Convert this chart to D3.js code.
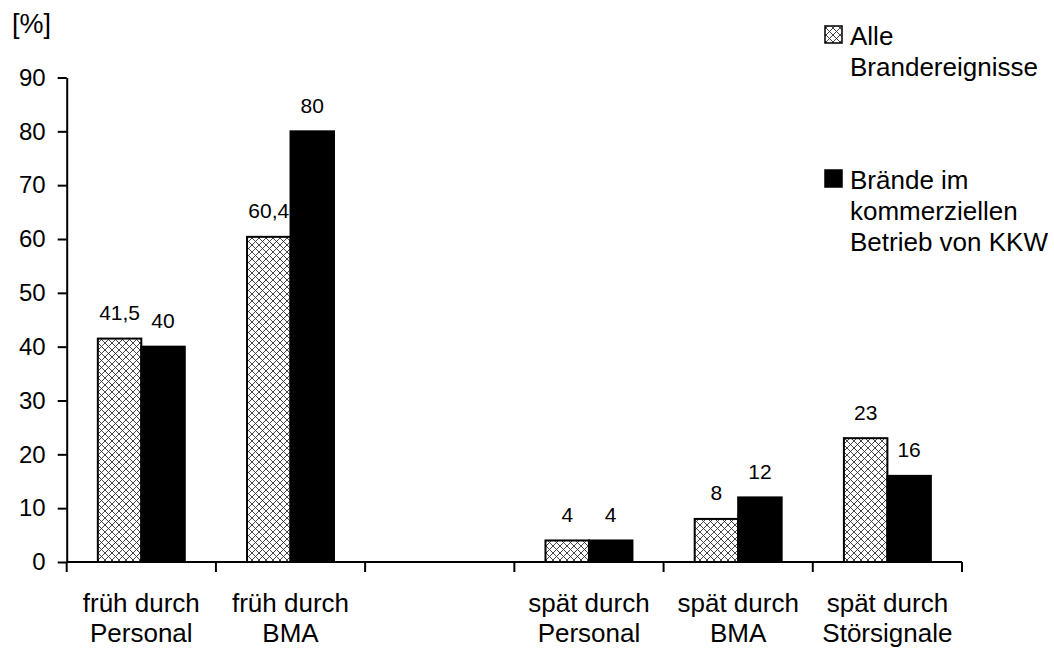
<!DOCTYPE html>
<html>
<head>
<meta charset="utf-8">
<script src="https://cdn.jsdelivr.net/npm/d3@7"></script>
<style>
  body { margin: 0; background: #fff; }
  text { font-family: "Liberation Sans", Arial, sans-serif; fill: #000; }
</style>
</head>
<body>
<div id="chart"></div>
<script>
var width = 1054;
var height = 650;

// data
var categories = ["früh durch|Personal", "früh durch|BMA", "", "spät durch|Personal", "spät durch|BMA", "spät durch|Störsignale"];
var series = ["Alle Brandereignisse", "Brände im kommerziellen Betrieb von KKW"];
var alleValues = [41.5, 60.4, null, 4, 8, 23];
var kkwValues = [40, 80, null, 4, 12, 16];
var yTicks = [0, 10, 20, 30, 40, 50, 60, 70, 80, 90];
var legendLines = [["Alle", "Brandereignisse"], ["Brände im", "kommerziellen", "Betrieb von KKW"]];

var svg = d3.select('#chart').append('svg')
	.attr("width", width)
	.attr("height", height);

// hatch pattern
var defs = svg.append("defs");
var pat = defs.append("pattern")
	.attr("id", "hatch")
	.attr("patternUnits", "userSpaceOnUse")
	.attr("width", 7)
	.attr("height", 7);
pat.append("rect").attr("width", 7).attr("height", 7).attr("fill", "#fff");
pat.append("path")
	.attr("d", "M0,0 L7,7 M7,0 L0,7 M-1,6 L1,8 M6,-1 L8,1 M-1,1 L1,-1 M6,8 L8,6")
	.attr("stroke", "#333")
	.attr("stroke-width", 0.9);

var fills = ["url(#hatch)", "#000"];

//scalers
var x0 = d3.scaleBand()
	.domain(d3.range(categories.length))
	.range([66.7, 962]);
var x1 = d3.scaleBand()
	.domain([0, 1])
	.range([0, x0.bandwidth()])
	.paddingOuter(0.716);
var y = d3.scaleLinear()
	.domain([0, 90])
	.range([562, 77.5]);

// axes
var yAxis = svg.append("g")
	.attr("transform", "translate(66.7,0)")
	.call(d3.axisLeft(y).tickValues(yTicks).tickSize(9).tickPadding(12).tickSizeOuter(0));
yAxis.select(".domain").attr("stroke-width", 2);
yAxis.selectAll(".tick line").attr("stroke-width", 2);
yAxis.selectAll(".tick text").style("font-size", "24px").attr("font-family", null);

var xg = svg.append("g").attr("transform", "translate(0,562)");
xg.append("line")
	.attr("x1", 66.7).attr("x2", 962)
	.attr("stroke", "#000").attr("stroke-width", 2);
xg.selectAll(".xtick")
	.data(d3.range(categories.length + 1))
	.enter().append("line")
	.attr("x1", function(i){ return 66.7 + i * x0.step(); })
	.attr("x2", function(i){ return 66.7 + i * x0.step(); })
	.attr("y1", 0).attr("y2", 10)
	.attr("stroke", "#000").attr("stroke-width", 2);

var catLabels = svg.selectAll(".cat")
	.data(categories)
	.enter().append("text")
	.attr("text-anchor", "middle")
	.style("font-size", "26px");
catLabels.each(function(c, i){
	var t = d3.select(this);
	c.split("|").filter(function(s){ return s; }).forEach(function(line, k){
		t.append("tspan")
			.attr("x", x0(i) + x0.bandwidth() / 2)
			.attr("y", 612 + k * 30)
			.text(line);
	});
});

// bars
var rows = [];
categories.forEach(function(c, i){
	[alleValues[i], kkwValues[i]].forEach(function(v, s){
		if (v !== null) rows.push({cat: i, s: s, v: v});
	});
});

svg.selectAll(".bar")
	.data(rows)
	.enter().append("rect")
	.attr("x", function(d){ return x0(d.cat) + x1(d.s); })
	.attr("y", function(d){ return y(d.v); })
	.attr("width", x1.bandwidth())
	.attr("height", function(d){ return y(0) - y(d.v); })
	.attr("fill", function(d){ return fills[d.s]; })
	.attr("stroke", "#000")
	.attr("stroke-width", 2);

svg.selectAll(".val")
	.data(rows)
	.enter().append("text")
	.attr("x", function(d){ return x0(d.cat) + x1(d.s) + x1.bandwidth() / 2; })
	.attr("y", function(d){ return y(d.v) - 18.5; })
	.attr("text-anchor", "middle")
	.style("font-size", "21px")
	.text(function(d){ return String(d.v).replace(".", ","); });

// unit label
svg.append("text")
	.attr("x", 12).attr("y", 33)
	.style("font-size", "27px")
	.text("[%]");

// legend
var legendY = [45, 189];
legendLines.forEach(function(lines, s){
	svg.append("rect")
		.attr("x", 825).attr("y", legendY[s] - 19)
		.attr("width", 17).attr("height", 17)
		.attr("fill", fills[s])
		.attr("stroke", "#000").attr("stroke-width", 1.5);
	var t = svg.append("text").style("font-size", "26px");
	lines.forEach(function(line, k){
		t.append("tspan").attr("x", 850).attr("y", legendY[s] + k * 31).text(line);
	});
});
</script>
</body>
</html>
